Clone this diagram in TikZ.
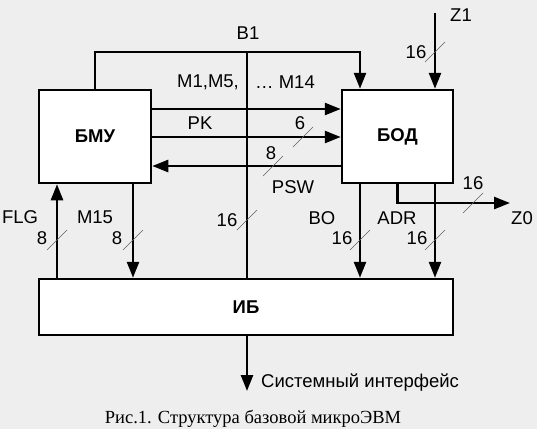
\documentclass[tikz,border=0pt]{standalone}
\usepackage{fontspec}
\setmainfont{Liberation Sans}
\newfontfamily\capfont{Liberation Serif}
\usetikzlibrary{arrows.meta, positioning, calc}
\definecolor{bgcol}{RGB}{238,238,238}
\tikzset{block/.style={draw, fill=white, line width=2.5pt, font=\fontsize{18.5}{21}\selectfont\bfseries},
    lbl/.style={inner sep=0pt, font=\fontsize{18.5}{21}\selectfont},
    wire/.style={line width=2.5pt},
    slash/.style={draw, gray!75!black, line width=0.6pt}}

\begin{document}
\begin{tikzpicture}[x=1pt, y=-1pt, >={Triangle[length=16pt,width=12pt]}]
  % Background
  \fill[bgcol] (0,0) rectangle (537,429);
  \useasboundingbox (0,0) rectangle (537,429);

  % Nodes
  \node[block, minimum width=112pt, minimum height=93pt] (bmu) at (95,136.5) {БМУ};
  \node[block, minimum width=111pt, minimum height=93pt] (bod) at (397.5,136.5) {БОД};
  \node[block, minimum width=414pt, minimum height=56pt] (ib) at (246,307) {ИБ};
  \coordinate (b1top) at (247,52);
  \coordinate (z1) at (435,13);
  \coordinate (z0) at (510,203);
  \coordinate (sys) at (247,391);

  % Bus B1 and its branches
  \draw[wire] (b1top) -- (b1top |- ib.north);
  \draw[wire] (bmu.north) |- (b1top);
  \draw[wire, ->] (b1top) -| ([xshift=-37.5pt]bod.north);
  \draw[wire, ->] (z1) -- (z1 |- bod.north);

  % Between the blocks
  \draw[wire, ->] ([yshift=27.5pt]bmu.east) -- ([yshift=27.5pt]bod.west);
  \draw[wire, ->] ([yshift=-0.5pt]bmu.east) -- ([yshift=-0.5pt]bod.west);
  \draw[wire, ->] ([yshift=-29.5pt]bod.west) -- ([yshift=-29.5pt]bmu.east);

  % Down to IB
  \draw[wire, ->] ([xshift=-38pt]bmu.south |- ib.north) -- ([xshift=-38pt]bmu.south);
  \draw[wire, ->] ([xshift=38pt]bmu.south) -- ([xshift=38pt]bmu.south |- ib.north);
  \draw[wire, ->] ([xshift=-37.5pt]bod.south) -- ([xshift=-37.5pt]bod.south |- ib.north);
  \draw[wire, ->] ([xshift=37.5pt]bod.south) -- ([xshift=37.5pt]bod.south |- ib.north);
  \draw[wire, ->] (bod.south) |- (z0);
  \draw[wire, ->] (ib.south -| sys) -- (sys);

  % Width marks
  \foreach \px/\py in {435/52, 303/137, 273/166, 473/203, 247/220,
      57/240, 133/240, 360/240, 435/240}
    \draw[slash] (\px-10,\py+10) -- (\px+10,\py-10);

  % Labels
  \node[lbl] (lb1) at (248,33) {B1};
  \node[lbl] (lz1) at (461,15) {Z1};
  \node[lbl] (l16a) at (416,52) {16};
  \node[lbl] (lm1) at (208,82) {M1,M5,};
  \node[lbl] (lm14) at (285,82) {\dots\ M14};
  \node[lbl] (lpk) at (200,123) {PK};
  \node[lbl] (l6) at (300,123) {6};
  \node[lbl] (l8a) at (271,153) {8};
  \node[lbl] (lpsw) at (293,187) {PSW};
  \node[lbl] (l16b) at (473,183) {16};
  \node[lbl] (lz0) at (522,218) {Z0};
  \node[lbl] (lflg) at (20,217) {FLG};
  \node[lbl] (lm15) at (95,217) {M15};
  \node[lbl] (l16c) at (227,220) {16};
  \node[lbl] (lbo) at (322,218) {BO};
  \node[lbl] (ladr) at (397,218) {ADR};
  \node[lbl] (l8b) at (42,238) {8};
  \node[lbl] (l8c) at (117,238) {8};
  \node[lbl] (l16d) at (342,238) {16};
  \node[lbl] (l16e) at (417,238) {16};
  \node[lbl, anchor=west] (lsys) at (261,383) {Системный интерфейс};
  \node[inner sep=0pt, font=\capfont\fontsize{18.5}{21}\selectfont] (cap) at (253,419) {Рис.1. Структура базовой микроЭВМ};
\end{tikzpicture}
\end{document}
